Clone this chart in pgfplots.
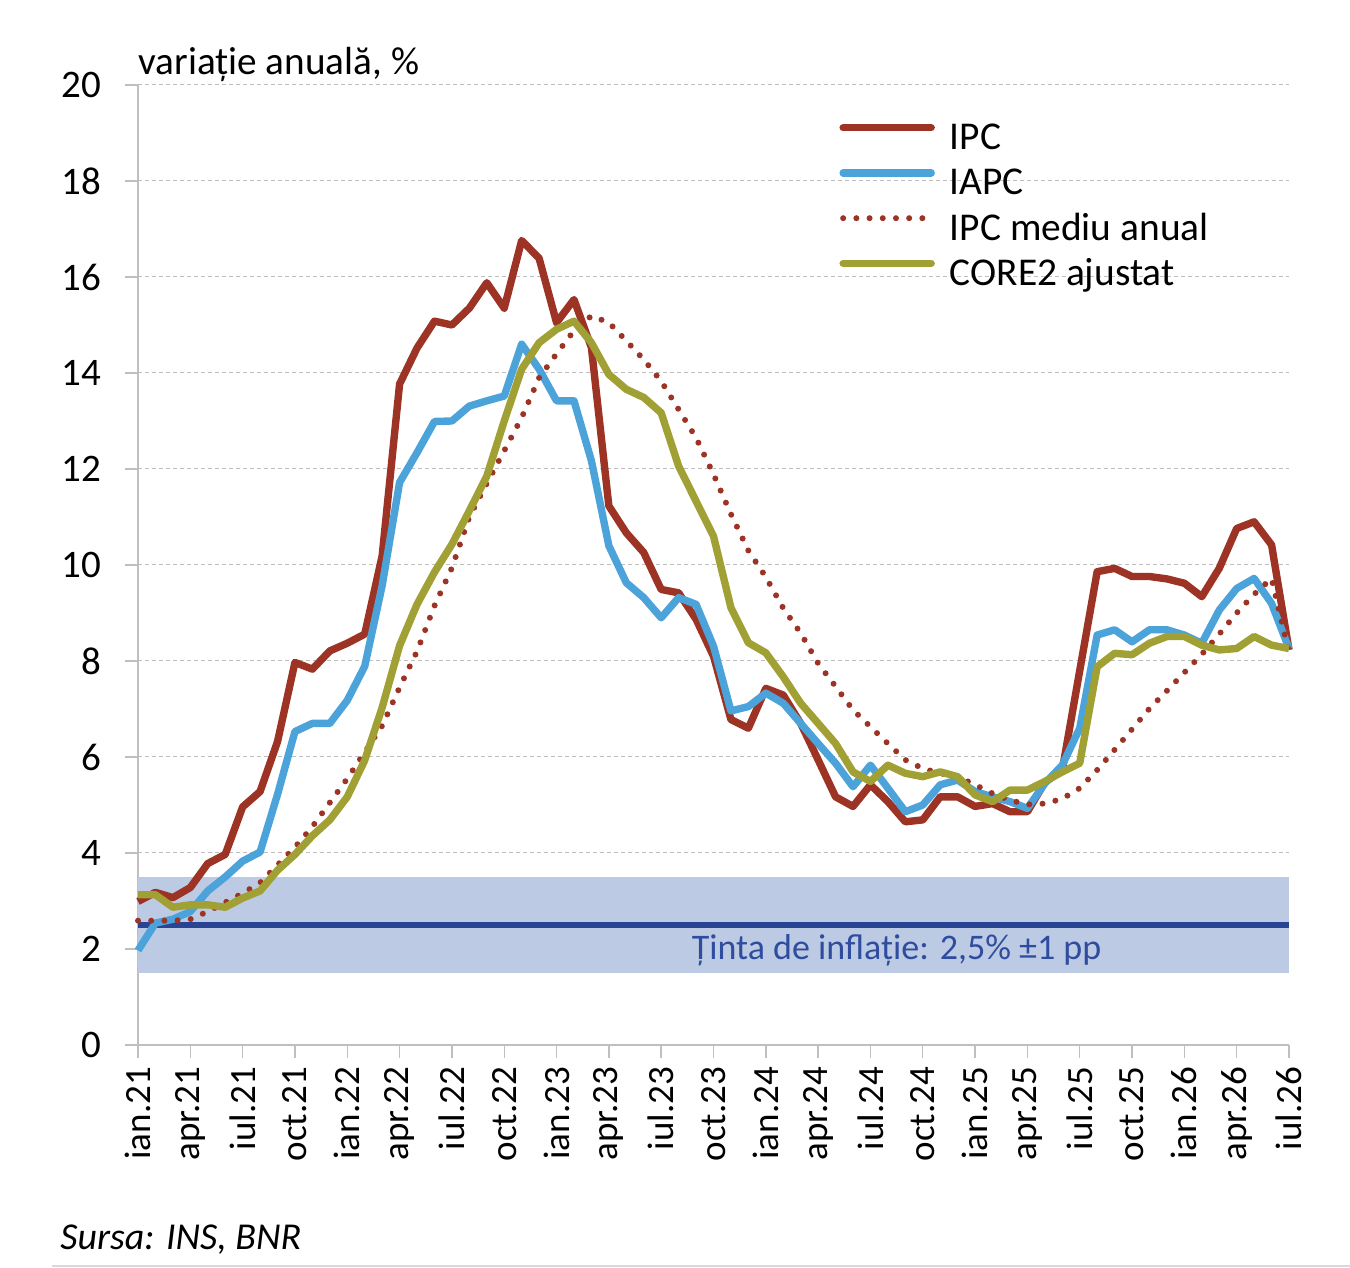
\documentclass[border=0pt]{standalone}
\usepackage{fontspec}
\setmainfont{Carlito}
\usepackage{pgfplots}
\pgfplotsset{compat=1.18}
\definecolor{ipc}{HTML}{9C3324}
\definecolor{iapc}{HTML}{4BA3DA}
\definecolor{core}{HTML}{A0A034}
\definecolor{bandc}{HTML}{BCCBE3}
\definecolor{tline}{HTML}{2A4494}
\definecolor{ttext}{HTML}{2F4C9E}
\definecolor{axisgray}{HTML}{BFBFBF}
\definecolor{gridgray}{HTML}{BFBFBF}

\pgfplotstableread{
i ipc iapc med core
0 2.99 1.97 2.59 3.13
1 3.18 2.54 2.59 3.13
2 3.07 2.62 2.59 2.87
3 3.28 2.78 2.62 2.92
4 3.78 3.21 2.78 2.92
5 3.97 3.50 2.97 2.87
6 4.96 3.83 3.16 3.06
7 5.28 4.02 3.38 3.21
8 6.32 5.22 3.75 3.64
9 7.97 6.53 4.12 3.97
10 7.83 6.70 4.55 4.36
11 8.21 6.70 5.05 4.69
12 8.37 7.18 5.55 5.17
13 8.56 7.89 6.10 5.93
14 10.19 9.57 6.65 7.03
15 13.77 11.72 7.45 8.32
16 14.52 12.34 8.20 9.18
17 15.08 12.99 9.15 9.85
18 15.00 13.00 9.94 10.43
19 15.35 13.31 11.00 11.13
20 15.88 13.42 11.70 11.85
21 15.35 13.52 12.38 13.00
22 16.76 14.60 13.07 14.08
23 16.39 14.08 13.90 14.63
24 15.05 13.42 14.40 14.91
25 15.53 13.42 14.88 15.08
26 14.53 12.17 15.19 14.63
27 11.23 10.40 15.05 13.97
28 10.67 9.63 14.67 13.66
29 10.26 9.32 14.28 13.49
30 9.49 8.90 13.83 13.17
31 9.42 9.32 13.24 12.06
32 8.87 9.18 12.65 11.33
33 8.10 8.31 11.89 10.60
34 6.78 6.96 11.06 9.11
35 6.60 7.05 10.30 8.38
36 7.43 7.33 9.75 8.17
37 7.29 7.12 9.10 7.67
38 6.70 6.70 8.58 7.12
39 5.94 6.28 7.95 6.70
40 5.17 5.87 7.47 6.28
41 4.97 5.38 6.98 5.69
42 5.42 5.83 6.63 5.49
43 5.07 5.35 6.28 5.83
44 4.65 4.86 5.94 5.66
45 4.69 5.00 5.76 5.59
46 5.17 5.42 5.66 5.69
47 5.17 5.52 5.59 5.59
48 4.97 5.28 5.42 5.21
49 5.03 5.17 5.24 5.07
50 4.86 5.07 5.10 5.31
51 4.86 4.93 5.01 5.31
52 5.47 5.45 5.03 5.49
53 5.73 5.83 5.13 5.69
54 7.80 6.60 5.35 5.87
55 9.86 8.54 5.73 7.88
56 9.93 8.65 6.15 8.16
57 9.76 8.40 6.58 8.13
58 9.76 8.65 7.01 8.37
59 9.71 8.65 7.38 8.51
60 9.62 8.54 7.76 8.51
61 9.34 8.37 8.14 8.33
62 9.93 9.06 8.56 8.23
63 10.76 9.51 9.00 8.26
64 10.90 9.72 9.39 8.51
65 10.42 9.20 9.72 8.33
66 8.23 8.26 8.17 8.26
}\data

\begin{document}
\begin{tikzpicture}
\path[use as bounding box] (0,0) rectangle (675bp,634bp);
\begin{axis}[
  at={(69bp,111.5bp)}, anchor=south west,
  scale only axis, width=575.5bp, height=480bp,
  xmin=0, xmax=66, ymin=0, ymax=20,
  axis x line=bottom, axis y line=left,
  axis line style={-, draw=axisgray, line width=0.7bp},
  xtick={0,3,...,66},
  xticklabels={ian.21,apr.21,iul.21,oct.21,ian.22,apr.22,iul.22,oct.22,ian.23,apr.23,iul.23,oct.23,ian.24,apr.24,iul.24,oct.24,ian.25,apr.25,iul.25,oct.25,ian.26,apr.26,iul.26},
  ytick={0,2,...,20},
  tick align=outside, major tick length=6.5bp,
  tick style={draw=axisgray, line width=0.7bp},
  ymajorgrids,
  grid style={draw=gridgray, line width=0.5bp, dash pattern=on 2bp off 1.5bp},
  x tick label style={rotate=90, anchor=east, yshift=0bp, xshift=-1bp, font=\fontsize{18.5bp}{20bp}\selectfont},
  y tick label style={xshift=-8.5bp, font=\fontsize{19.5bp}{21bp}\selectfont},
  /pgf/number format/assume math mode=true,
  legend style={at={(axis cs:40.2,19.2)}, anchor=north west, draw=none, fill=none,
    font=\fontsize{19.7bp}{22bp}\selectfont, inner sep=0pt, row sep=5.6bp, column sep=7.5bp,
    nodes={inner sep=0pt, text height=13bp, text depth=4bp}},
  legend cell align=left,
  legend image code/.code={\draw[#1, line cap=round] (0bp,6.5bp) -- (44bp,6.5bp);},
  clip=false,
]
\addplot[draw=none, fill=bandc, forget plot] coordinates {(0,1.5) (66,1.5) (66,3.5) (0,3.5)} -- cycle;
\addplot[tline, line width=3.3bp, forget plot] coordinates {(0,2.5) (66,2.5)};
\addplot[ipc, line width=3.7bp, line join=round] table[x=i, y=ipc] {\data};
\addlegendentry{IPC}
\addplot[iapc, line width=3.7bp, line join=round] table[x=i, y=iapc] {\data};
\addlegendentry{IAPC}
\addplot[ipc, line width=3bp, line cap=round, dash pattern=on 0bp off 6.6bp] table[x=i, y=med] {\data};
\addlegendentry{IPC mediu anual}
\addplot[core, line width=3.7bp, line join=round] table[x=i, y=core] {\data};
\addlegendentry{CORE2 ajustat}
\end{axis}
\node[anchor=base west, font=\fontsize{19.6bp}{22bp}\selectfont, inner sep=0pt] at (69bp,596.5bp) {variație anuală, \%};
\node[anchor=base, font=\fontsize{18bp}{21bp}\selectfont, text=ttext, inner sep=0pt] at (448.3bp,154bp) {Ținta de inflație: 2,5\% ±1 pp};
\node[anchor=base west, font=\fontsize{19bp}{21bp}\selectfont\itshape, inner sep=0pt] at (30bp,9.5bp) {Sursa: INS, BNR};
\draw[draw=black!15, line width=0.6bp] (26bp,1bp) -- (675bp,1bp);
\end{tikzpicture}
\end{document}
